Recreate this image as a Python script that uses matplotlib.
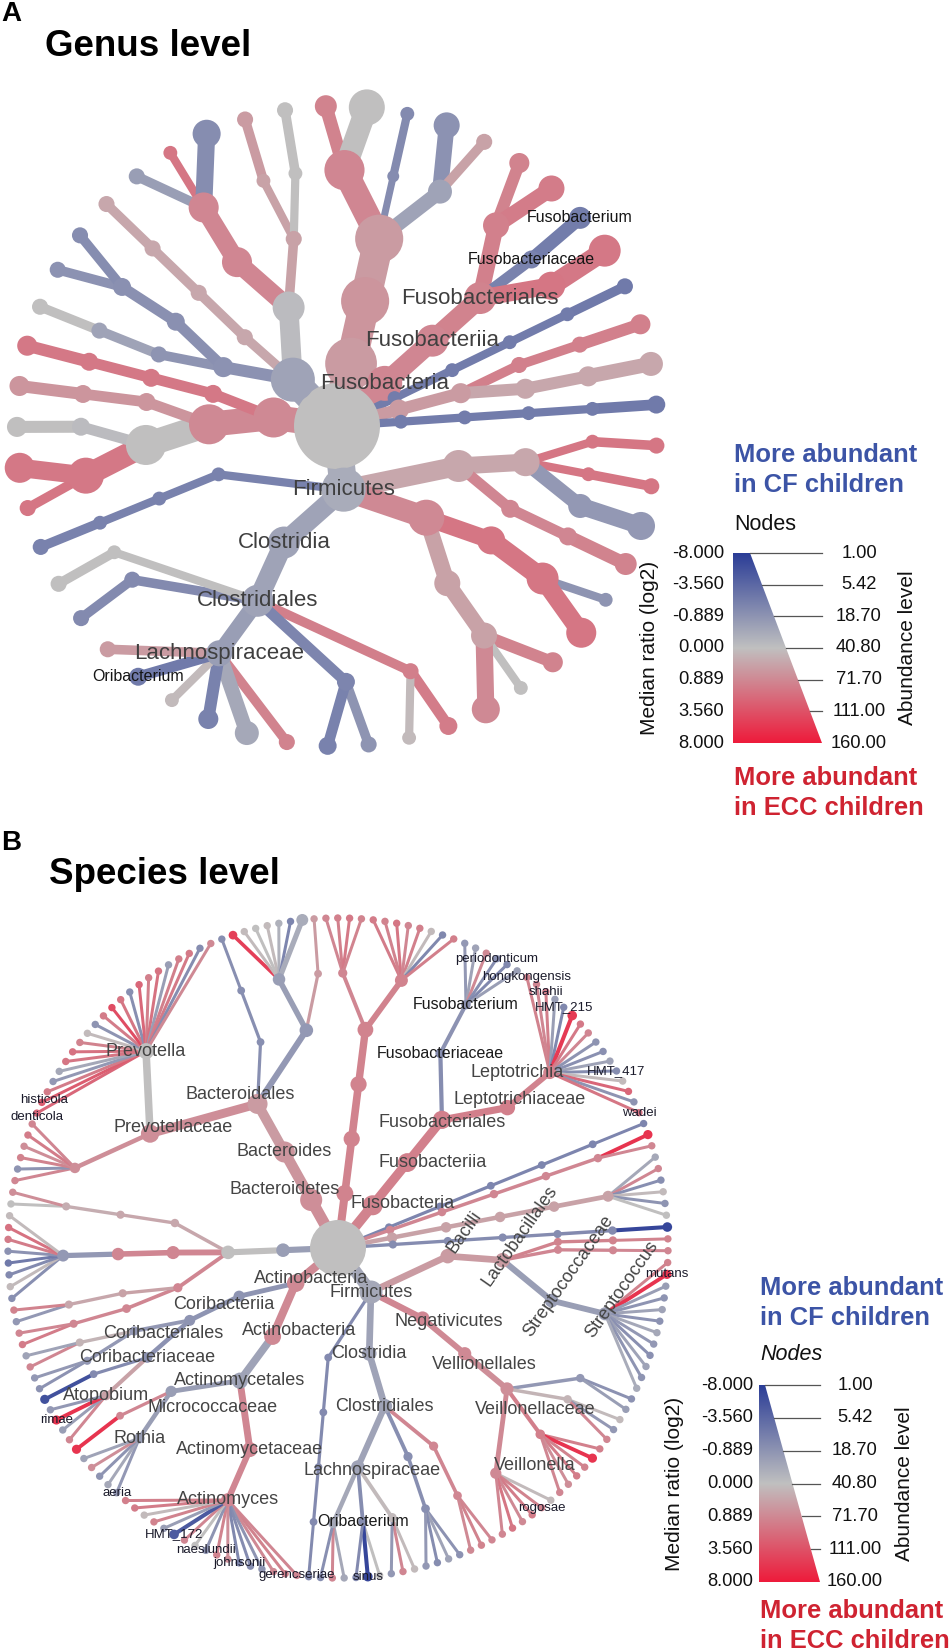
import numpy as np
import matplotlib
matplotlib.use("Agg")
import matplotlib.pyplot as plt
from matplotlib.collections import LineCollection
from matplotlib.patches import Circle, Polygon
from matplotlib.colors import LinearSegmentedColormap

plt.rcParams['font.family'] = ['Liberation Sans', 'DejaVu Sans']

W, H = 949, 1652

# legend scales
ratio_ticks = [-8.0, -3.56, -0.889, 0.0, 0.889, 3.56, 8.0]
abund_ticks = [1.00, 5.42, 18.70, 40.80, 71.70, 111.00, 160.00]

# ---------------- genus level tree (clockwise order) ----------------
g_name = [
    "Bacteria",
    "Bacteroidetes", "Bacteroidia", "Bacteroidales",
    "Prevotellaceae", "Prevotella", "Alloprevotella",
    "Porphyromonadaceae", "Porphyromonas",
    "Flavobacteriaceae", "Capnocytophaga", "Bergeyella",
    "Fusobacteria", "Fusobacteriia", "Fusobacteriales",
    "Leptotrichiaceae", "Leptotrichia", "Sneathia",
    "Fusobacteriaceae", "Fusobacterium",
    "Fusobacteriales_[F-1]", "Fusobacteriales_[G-1]",
    "Spirochaetes", "Spirochaetia", "Spirochaetales", "Spirochaetaceae", "Treponema",
    "Saccharibacteria", "TM7_[C-1]", "TM7_[O-1]", "TM7_[F-1]", "TM7_[G-1]", "TM7_[O-2]", "TM7_[F-2]", "TM7_[G-2]",
    "Synergistetes", "Synergistia", "Synergistales", "Synergistaceae", "Fretibacterium",
    "Firmicutes", "Bacilli", "Lactobacillales", "Carnobacteriaceae", "Granulicatella", "Lactobacillaceae", "Lactobacillus", "Streptococcaceae", "Streptococcus",
    "Bacillales", "Gemellaceae", "Gemella",
    "Negativicutes", "Selenomonadales", "Veillonellaceae", "Megasphaera", "Veillonella",
    "Acidaminococcales", "Acidaminococcaceae", "Selenomonas", "Phascolarctobacterium", "Centipeda",
    "Clostridia", "Clostridiales", "Peptostreptococcaceae", "Peptostreptococcus", "Filifactor",
    "Ruminococcaceae", "Ruminococcus", "Oscillibacter",
    "Lachnospiraceae", "Lachnoanaerobaculum", "Stomatobaculum", "Catonella", "Shuttleworthia", "Oribacterium", "Johnsonella",
    "Peptococcaceae", "Peptococcus", "Clostridiales_[F-1]", "Mogibacterium",
    "Erysipelotrichia", "Erysipelotrichales", "Erysipelotrichaceae", "Solobacterium",
    "Actinobacteria", "Actinobacteria|c", "Actinomycetales", "Actinomycetaceae", "Schaalia", "Actinomyces", "Micrococcaceae", "Rothia",
    "Bifidobacteriales", "Bifidobacteriaceae", "Scardovia",
    "Coriobacteriia", "Coriobacteriales", "Coriobacteriaceae", "Atopobium",
    "Proteobacteria", "Deltaproteobacteria", "Desulfobacterales", "Desulfobulbaceae", "Desulfobulbus", "Desulfovibrionales", "Desulfovibrionaceae", "Desulfovibrio", "Bilophila",
    "Alphaproteobacteria", "Rhizobiales", "Bradyrhizobiaceae", "Bradyrhizobium",
    "Betaproteobacteria", "Neisseriales", "Neisseriaceae", "Kingella", "Eikenella", "Neisseria",
    "Burkholderiales", "Burkholderiaceae", "Lautropia", "Comamonadaceae", "Delftia",
]
g_parent = [
    "",
    "Bacteria", "Bacteroidetes", "Bacteroidia",
    "Bacteroidales", "Prevotellaceae", "Prevotellaceae",
    "Bacteroidales", "Porphyromonadaceae",
    "Bacteroidales", "Flavobacteriaceae", "Flavobacteriaceae",
    "Bacteria", "Fusobacteria", "Fusobacteriia",
    "Fusobacteriales", "Leptotrichiaceae", "Leptotrichiaceae",
    "Fusobacteriales", "Fusobacteriaceae",
    "Fusobacteriales", "Fusobacteriales_[F-1]",
    "Bacteria", "Spirochaetes", "Spirochaetia", "Spirochaetales", "Spirochaetaceae",
    "Bacteria", "Saccharibacteria", "TM7_[C-1]", "TM7_[O-1]", "TM7_[F-1]", "TM7_[C-1]", "TM7_[O-2]", "TM7_[F-2]",
    "Bacteria", "Synergistetes", "Synergistia", "Synergistales", "Synergistaceae",
    "Bacteria", "Firmicutes", "Bacilli", "Lactobacillales", "Carnobacteriaceae", "Lactobacillales", "Lactobacillaceae", "Lactobacillales", "Streptococcaceae",
    "Bacilli", "Bacillales", "Gemellaceae",
    "Firmicutes", "Negativicutes", "Selenomonadales", "Veillonellaceae", "Veillonellaceae",
    "Negativicutes", "Acidaminococcales", "Acidaminococcaceae", "Acidaminococcaceae", "Acidaminococcaceae",
    "Firmicutes", "Clostridia", "Clostridiales", "Peptostreptococcaceae", "Peptostreptococcaceae",
    "Clostridiales", "Ruminococcaceae", "Ruminococcaceae",
    "Clostridiales", "Lachnospiraceae", "Lachnospiraceae", "Lachnospiraceae", "Lachnospiraceae", "Lachnospiraceae", "Lachnospiraceae",
    "Clostridiales", "Peptococcaceae", "Clostridiales", "Clostridiales_[F-1]",
    "Firmicutes", "Erysipelotrichia", "Erysipelotrichales", "Erysipelotrichaceae",
    "Bacteria", "Actinobacteria", "Actinobacteria|c", "Actinomycetales", "Actinomycetaceae", "Actinomycetaceae", "Actinomycetales", "Micrococcaceae",
    "Actinobacteria|c", "Bifidobacteriales", "Bifidobacteriaceae",
    "Actinobacteria", "Coriobacteriia", "Coriobacteriales", "Coriobacteriaceae",
    "Bacteria", "Proteobacteria", "Deltaproteobacteria", "Desulfobacterales", "Desulfobulbaceae", "Deltaproteobacteria", "Desulfovibrionales", "Desulfovibrionaceae", "Desulfovibrionaceae",
    "Proteobacteria", "Alphaproteobacteria", "Rhizobiales", "Bradyrhizobiaceae",
    "Proteobacteria", "Betaproteobacteria", "Neisseriales", "Neisseriaceae", "Neisseriaceae", "Neisseriaceae",
    "Betaproteobacteria", "Burkholderiales", "Burkholderiaceae", "Burkholderiales", "Comamonadaceae",
]
g_ratio = [
    0.0,
    0.6, 0.7, 0.6,
    1.0, 1.2, 0.0,
    -1.4, -1.5,
    -0.6, -1.0, 0.5,
    1.0, 1.0, 1.2,
    1.3, 1.2, 1.5,
    -2.0, -2.3,
    1.8, 1.7,
    -2.4, -2.4, -2.4, -2.4, -2.5,
    0.6, 0.6, 1.3, 1.3, 1.3, 0.4, 0.4, 0.4,
    -2.4, -2.4, -2.4, -2.4, -2.5,
    -0.4, 0.4, 0.4, 1.8, 1.8, 1.8, 1.8, -0.8, -0.8,
    1.0, 1.0, 1.2,
    0.9, 1.8, 1.8, -0.9, 1.8,
    0.5, 0.5, 1.2, 0.0, 0.9,
    -0.6, -0.6, 1.4, 1.5, 0.1,
    -1.8, -0.9, -2.0,
    -0.7, 1.2, -0.5, -2.0, 0.1, -2.5, 0.6,
    -1.5, -1.5, 0.0, 0.0,
    -2.0, -2.0, -2.0, -2.0,
    0.9, 0.9, 0.0, 1.7, 1.8, 1.7, -0.1, 0.0,
    0.7, 0.7, 0.7,
    1.7, 1.7, 1.7, 1.7,
    -0.6, -1.0, -0.9, -0.6, 0.0, -1.1, -1.1, -1.0, -1.3,
    0.4, 0.4, 0.4, 0.4,
    -0.1, 1.0, 1.0, -0.7, 1.8, -1.3,
    0.5, 0.5, 0.6, 0.0, 0.0,
]
g_abund = [
    160,
    51, 43, 43,
    28, 6.1, 21.5,
    1.4, 1.9,
    7.7, 9.5, 2.7,
    20, 16, 16,
    9.5, 4.8, 9.5,
    3.6, 6.1,
    11.5, 16,
    1.9, 1.9, 1.9, 1.9, 2.7,
    4.8, 4.8, 2.7, 2.7, 4.8, 4.8, 4.8, 7.7,
    1.9, 1.9, 1.9, 1.9, 3.6,
    35, 16, 11.5, 1.9, 2.7, 1.9, 2.7, 7.7, 11.5,
    3.6, 3.6, 6.1,
    21.5, 11.5, 16, 1.9, 13.7,
    9.5, 9.5, 4.8, 1.9, 11.5,
    16, 16, 2.7, 3.6, 1.9,
    3.6, 2.7, 3.6,
    9.5, 2.7, 7.7, 4.8, 1.9, 3.6, 2.7,
    2.7, 2.7, 1.9, 2.7,
    1.9, 1.9, 1.9, 2.7,
    27.8, 27.8, 27.8, 21.5, 2.7, 13.7, 3.6, 4.8,
    3.6, 3.6, 4.8,
    3.6, 3.6, 3.6, 4.8,
    35, 4.8, 2.7, 2.7, 2.7, 3.6, 3.6, 2.7, 2.7,
    2.7, 2.7, 2.7, 2.7,
    16, 13.7, 13.7, 2.7, 1.9, 11.5,
    2.7, 1.9, 2.7, 1.9, 2.7,
]
g_labels_big = ["Fusobacteria", "Fusobacteriia", "Fusobacteriales", "Firmicutes",
                "Clostridia", "Clostridiales", "Lachnospiraceae"]
g_labels_small = ["Fusobacteriaceae", "Fusobacterium", "Oribacterium"]

# ---------------- species level tree (clockwise order) ----------------
s_name = [
    "Bacteria",
    "Proteobacteria", "Betaproteobacteria", "Neisseriales", "Neisseriaceae", "Kingella", "Neisseria",
    "Fusobacteria", "Fusobacteriia", "Fusobacteriales", "Fusobacteriaceae", "Fusobacterium", "Leptotrichiaceae", "Leptotrichia",
    "Synergistetes", "Synergistia", "Synergistales", "Synergistaceae", "Fretibacterium",
    "Saccharibacteria", "TM7_[C-1]", "TM7_[O-1]", "TM7_[F-1]", "TM7_[G-1]",
    "Absconditabacteria", "SR1_[C-1]", "SR1_[O-1]", "SR1_[F-1]", "SR1_[G-1]",
    "Chloroflexi", "Anaerolineae", "Anaerolineales", "Anaerolineaceae", "Anaerolineae_[G-1]",
    "Firmicutes", "Bacilli", "Lactobacillales", "Lactobacillaceae", "Lactobacillus", "Carnobacteriaceae", "Granulicatella", "Streptococcaceae", "Streptococcus",
    "Negativicutes", "Vellionellales", "Veillonellaceae", "Megasphaera", "Dialister", "Selenomonas", "Veillonella",
    "Clostridia", "Clostridiales", "Peptostreptococcaceae", "Peptostreptococcus", "Peptococcaceae", "Peptococcus", "Lachnospiraceae", "Lachnoanaerobaculum", "Oribacterium", "Stomatobaculum",
    "Erysipelotrichia", "Erysipelotrichales", "Erysipelotrichaceae", "Solobacterium",
    "Actinobacteria", "Actinobacteria|c", "Actinomycetales", "Actinomycetaceae", "Actinomyces", "Micrococcaceae", "Rothia", "Kocuria",
    "Coribacteriia", "Coribacteriales", "Coribacteriaceae", "Atopobium", "Olsenella", "Eggerthellaceae", "Slackia", "Cryptobacterium",
    "Spirochaetes", "Spirochaetia", "Leptospirales", "Leptospiraceae", "Leptospira", "Leptonemataceae", "Leptonema", "Spirochaetales", "Spirochaetaceae", "Treponema", "Spirochaetia_[O-3]", "Spirochaetia_[F-3]", "Spirochaetia_[G-3]",
    "Bacteroidetes", "Bacteroides", "Bacteroidales", "Prevotellaceae", "Alloprevotella", "Prevotella", "Porphyromonadaceae", "Porphyromonas", "Flavobacteriaceae", "Capnocytophaga", "Bergeyella",
]
s_parent = [
    "",
    "Bacteria", "Proteobacteria", "Betaproteobacteria", "Neisseriales", "Neisseriaceae", "Neisseriaceae",
    "Bacteria", "Fusobacteria", "Fusobacteriia", "Fusobacteriales", "Fusobacteriaceae", "Fusobacteriales", "Leptotrichiaceae",
    "Bacteria", "Synergistetes", "Synergistia", "Synergistales", "Synergistaceae",
    "Bacteria", "Saccharibacteria", "TM7_[C-1]", "TM7_[O-1]", "TM7_[F-1]",
    "Bacteria", "Absconditabacteria", "SR1_[C-1]", "SR1_[O-1]", "SR1_[F-1]",
    "Bacteria", "Chloroflexi", "Anaerolineae", "Anaerolineales", "Anaerolineaceae",
    "Bacteria", "Firmicutes", "Bacilli", "Lactobacillales", "Lactobacillaceae", "Lactobacillales", "Carnobacteriaceae", "Lactobacillales", "Streptococcaceae",
    "Firmicutes", "Negativicutes", "Vellionellales", "Veillonellaceae", "Veillonellaceae", "Veillonellaceae", "Veillonellaceae",
    "Firmicutes", "Clostridia", "Clostridiales", "Peptostreptococcaceae", "Clostridiales", "Peptococcaceae", "Clostridiales", "Lachnospiraceae", "Lachnospiraceae", "Lachnospiraceae",
    "Firmicutes", "Erysipelotrichia", "Erysipelotrichales", "Erysipelotrichaceae",
    "Bacteria", "Actinobacteria", "Actinobacteria|c", "Actinomycetales", "Actinomycetaceae", "Actinomycetales", "Micrococcaceae", "Micrococcaceae",
    "Actinobacteria", "Coribacteriia", "Coribacteriales", "Coribacteriaceae", "Coribacteriaceae", "Coribacteriales", "Eggerthellaceae", "Eggerthellaceae",
    "Bacteria", "Spirochaetes", "Spirochaetia", "Leptospirales", "Leptospiraceae", "Leptospirales", "Leptonemataceae", "Spirochaetia", "Spirochaetales", "Spirochaetaceae", "Spirochaetia", "Spirochaetia_[O-3]", "Spirochaetia_[F-3]",
    "Bacteria", "Bacteroidetes", "Bacteroides", "Bacteroidales", "Prevotellaceae", "Prevotellaceae", "Bacteroidales", "Porphyromonadaceae", "Bacteroidales", "Flavobacteriaceae", "Flavobacteriaceae",
]
s_ratio = [
    0.0,
    1.2, 1.2, 1.2, 1.2, 1.0, 1.2,
    1.2, 1.3, 1.3, -1.3, -1.0, 1.4, 1.2,
    -1.8, -1.8, -1.8, -1.8, -1.8,
    1.0, 1.0, 1.0, 1.0, 1.0,
    0.5, 0.5, 0.5, 0.5, 0.5,
    -1.4, -1.4, -1.4, -1.4, -1.5,
    -0.5, 0.6, 0.6, 1.2, 1.2, 1.0, 1.0, -0.7, -0.7,
    1.0, 0.9, 0.8, -0.8, 0.2, 1.4, 0.9,
    -0.6, -0.6, 1.0, 1.0, -1.2, -1.2, -0.6, 0.1, -1.3, -0.5,
    -1.5, -1.5, -1.5, -1.5,
    0.9, 0.9, -0.6, 1.0, 1.0, -0.7, -0.7, 1.0,
    -0.9, -0.9, -1.0, 0.5, -1.5, -0.8, -0.8, 0.2,
    -0.7, 0.0, 1.0, 1.0, 1.0, 0.5, 0.4, 1.0, 1.0, -0.8, 0.4, 0.4, 0.3,
    0.8, 0.7, 0.6, 0.8, 0.8, 0.0, -1.2, -1.2, -0.8, -0.7, 0.6,
]
s_abund = [
    160,
    9, 8, 8, 7.5, 1.8, 4.4,
    14, 12, 11, 2.2, 2.0, 7, 4.5,
    1.3, 1.3, 1.3, 1.3, 1.3,
    1.5, 1.5, 1.5, 1.5, 1.5,
    2.5, 2.5, 2.5, 2.5, 2.8,
    1.4, 1.4, 1.4, 1.4, 1.5,
    20, 6, 6, 1.4, 1.4, 1.4, 1.4, 5, 4.5,
    5.5, 4.5, 4.5, 1.5, 1.5, 2.0, 3.0,
    6, 6, 1.8, 1.6, 1.8, 1.6, 5, 1.8, 1.8, 2.5,
    1.3, 1.3, 1.3, 1.3,
    10, 9, 8, 6.5, 5, 3, 2.5, 1.3,
    3, 2.8, 2.5, 2.0, 1.3, 1.8, 1.4, 1.4,
    5, 5, 1.8, 1.6, 1.4, 1.4, 1.4, 4.5, 4, 3.5, 1.5, 1.4, 1.4,
    18, 16, 14, 11, 2.5, 7.8, 1.3, 1.3, 5, 4, 1.3,
]

# species (leaves) per genus: median log2 ratio of each species
sp_leaf_ratio = {
    "Kingella": [1.0, 1.3, 1.6, 1.1],
    "Neisseria": [1.5, 1.2, 1.8, 1.0, 1.3, 0.1, -1.6, 1.4],
    "Fusobacterium": [-0.8, -0.6, 0.9, -1.2, -1.6, -0.7],
    "Leptotrichia": [1.2, 1.0, 1.4, -0.7, -1.6, 5.5, 1.6, 1.0, -0.9, -1.1, -0.6, -1.3, 0.1, 2.5, -0.9, 1.8],
    "Fretibacterium": [-1.8],
    "TM7_[G-1]": [6.0, 1.0],
    "SR1_[G-1]": [-0.5, 1.0, -1.2, 0.1, -0.9, 0.0],
    "Anaerolineae_[G-1]": [-7.0],
    "Lactobacillus": [1.2],
    "Granulicatella": [1.0],
    "Streptococcus": [1.2, 6.0, -0.7, -0.9, -0.6, -1.0, -0.5, -0.8, -1.1, -0.6, -0.9, -0.4],
    "Megasphaera": [-1.0, -0.7],
    "Dialister": [0.1, -0.8, 1.0],
    "Selenomonas": [1.3, 6.0, 1.2, 1.5, 0.8, 1.0],
    "Veillonella": [0.1, 1.2, 1.5, 0.9, 1.8, 1.0],
    "Peptostreptococcus": [1.0, 1.2, 0.9],
    "Peptococcus": [-1.0, -0.6, -1.3, -0.8],
    "Lachnoanaerobaculum": [0.1, 1.0, -0.8],
    "Oribacterium": [0.0, -7.0, -1.5],
    "Stomatobaculum": [-0.5, 1.0, -1.2],
    "Solobacterium": [-1.5],
    "Actinomyces": [1.0, 1.2, 0.9, -0.9, -1.4, -1.6, 0.8, 1.1, -0.9, 0.0, 1.0, -5.0, -0.7, 1.2, 0.1, 1.5, 1.3],
    "Rothia": [-0.8, -0.5, -0.9, 0.8, -0.6],
    "Kocuria": [6.0],
    "Atopobium": [1.0, -0.7, 6.0, -0.8],
    "Olsenella": [-6.0],
    "Slackia": [-1.0, -0.8],
    "Cryptobacterium": [1.0, -0.6],
    "Leptospira": [1.5, 1.0],
    "Leptonema": [-0.8, 1.2],
    "Treponema": [-1.2, 0.1, -1.5, -2.5, -1.0, 1.5, 2.0, 0.1],
    "Spirochaetia_[G-3]": [0.0, 0.8],
    "Alloprevotella": [1.0, -0.9, 1.2, 0.8, 1.5, 1.0],
    "Prevotella": [2.5, 3.0, 1.5, -0.8, -0.5, 1.8, 2.0, 1.2, 0.1, -0.9, 1.5, 4.0, 1.8, -1.2, 2.5, 1.3, 2.0, -0.7, 1.4, 1.6, -1.3, 0.9],
    "Porphyromonas": [-1.2],
    "Capnocytophaga": [5.0, 0.1, 0.0, 0.1, -0.3, -1.8, -0.4],
    "Bergeyella": [0.6],
}
sp_leaf_abund_default = 1.2
sp_leaf_abund = {
    "Leptotrichia": {5: 2.0}, "Streptococcus": {1: 1.8}, "Selenomonas": {1: 1.8},
    "Oribacterium": {1: 2.0}, "Actinomyces": {11: 2.0}, "Atopobium": {2: 1.8},
    "Kocuria": {0: 1.8}, "Olsenella": {0: 1.8}, "Anaerolineae_[G-1]": {0: 2.0},
    "TM7_[G-1]": {0: 1.8}, "Capnocytophaga": {0: 1.6, 6: 3.5},
}
sp_leaf_label = {
    "Fusobacterium": {3: "periodonticum"},
    "Leptotrichia": {0: "hongkongensis", 2: "shahii", 4: "HMT_215", 11: "HMT_417", 15: "wadei"},
    "Streptococcus": {1: "mutans"},
    "Veillonella": {1: "rogosae"},
    "Oribacterium": {1: "sinus"},
    "Actinomyces": {0: "gerencseriae", 5: "johnsonii", 8: "naeslundii", 11: "HMT_172"},
    "Rothia": {0: "aeria"},
    "Atopobium": {2: "rimae"},
    "Prevotella": {0: "denticola", 1: "histicola"},
}
s_labels_big = ["Prevotella", "Prevotellaceae", "Bacteroidales", "Bacteroides", "Bacteroidetes",
                "Fusobacteria", "Fusobacteriia", "Fusobacteriales", "Leptotrichiaceae", "Leptotrichia",
                "Firmicutes", "Negativicutes", "Vellionellales", "Veillonellaceae", "Veillonella",
                "Clostridia", "Clostridiales", "Lachnospiraceae",
                "Actinobacteria", "Actinobacteria|c", "Coribacteriia", "Coribacteriales", "Coribacteriaceae",
                "Atopobium", "Actinomycetales", "Micrococcaceae", "Actinomycetaceae", "Actinomyces", "Rothia"]
s_labels_rot = ["Bacilli", "Lactobacillales", "Streptococcaceae", "Streptococcus"]
s_labels_mid = ["Fusobacteriaceae", "Fusobacterium", "Oribacterium"]

# nudges (pixels) so that crowded labels sit as in the original figure
s_label_nudge = {
    "Bacteroidetes": (-27, -10), "Bacteroidales": (-17, -9), "Prevotellaceae": (23, -6),
    "Fusobacteria": (30, -2), "Fusobacteriia": (25, 0), "Leptotrichia": (-33, 0),
    "Leptotrichiaceae": (12, -8), "Fusobacteriales": (0, 3),
    "Actinobacteria": (15, -5), "Coribacteriia": (-15, 8), "Actinobacteria|c": (26, -6),
    "Coribacteriales": (-26, 13), "Micrococcaceae": (41, 16),
    "Negativicutes": (26, 3), "Vellionellales": (20, 11), "Veillonellaceae": (28, 21),
    "Veillonella": (39, -8), "Lachnospiraceae": (14, 3),
    "Prevotella denticola": (0, 4), "Prevotella histicola": (2, -2),
}

assert len(g_name) == len(g_parent) == len(g_ratio) == len(g_abund)
assert len(s_name) == len(s_parent) == len(s_ratio) == len(s_abund)

# add species leaves to the species tree
sp_names, sp_parents = list(s_name), list(s_parent)
sp_ratio, sp_abund = list(s_ratio), list(s_abund)
sp_display = {}
for genus, vals in sp_leaf_ratio.items():
    for i, v in enumerate(vals):
        epithet = sp_leaf_label.get(genus, {}).get(i)
        leaf = f"{genus} {epithet}" if epithet else f"{genus} sp{i + 1}"
        if epithet:
            sp_display[leaf] = epithet
        sp_names.append(leaf)
        sp_parents.append(genus)
        sp_ratio.append(v)
        sp_abund.append(sp_leaf_abund.get(genus, {}).get(i, sp_leaf_abund_default))

# ---------------- helpers ----------------
cmap = LinearSegmentedColormap.from_list('cf_ecc', ['#2b3d97', '#c0c0c0', '#ee1b3b'])
tick_pos = np.linspace(0, 1, len(ratio_ticks))


def ratio_color(r):
    return cmap(np.interp(r, ratio_ticks, tick_pos))


def node_radius(a, rmin, rmax):
    return rmin + (rmax - rmin) * np.sqrt((a - 1.0) / (abund_ticks[-1] - 1.0))


def radial_layout(names, parents, cx, cy, step, theta0):
    children = {n: [] for n in names}
    for n, p in zip(names, parents):
        if p:
            children[p].append(n)
    root = names[0]
    leaves, depth = [], {root: 0}

    def walk(n):
        for c in children[n]:
            depth[c] = depth[n] + 1
            walk(c)
        if not children[n]:
            leaves.append(n)
    walk(root)

    d_ang = 360.0 / len(leaves)
    ang = {leaf: theta0 - i * d_ang for i, leaf in enumerate(leaves)}

    def set_angle(n):
        if children[n]:
            ang[n] = np.mean([set_angle(c) for c in children[n]])
        return ang[n]
    set_angle(root)

    pos = {}
    for n in names:
        t = np.radians(ang[n])
        r = depth[n] * step
        pos[n] = (cx + r * np.cos(t), cy - r * np.sin(t))
    return pos, depth


def draw_tree(ax, names, parents, ratios, abunds, cx, cy, step, theta0, rmin, rmax, edge_w):
    pos, depth = radial_layout(names, parents, cx, cy, step, theta0)
    rad = {n: node_radius(a, rmin, rmax) for n, a in zip(names, abunds)}
    col = {n: ratio_color(r) for n, r in zip(names, ratios)}
    segs, lws, cols = [], [], []
    for n, p in zip(names, parents):
        if p:
            segs.append([pos[p], pos[n]])
            lws.append(edge_w(rad[n]) * 0.72)
            cols.append(col[n])
    ax.add_collection(LineCollection(segs, linewidths=lws, colors=cols,
                                     capstyle='butt', zorder=1))
    for n in sorted(names, key=lambda k: depth[k]):
        ax.add_patch(Circle(pos[n], rad[n], facecolor=col[n], edgecolor='none', zorder=2))
    return pos


def put_label(ax, pos, name, text, size, color, rot=0, nudge=(0, 0)):
    x, y = pos[name]
    ax.text(x + nudge[0], y + nudge[1], text, ha='center', va='center', fontsize=size,
            color=color, rotation=rot, rotation_mode='anchor', zorder=5)


def draw_legend(ax, left, top, bottom, top_w, bot_w, line_x, lab_l_x, lab_r_x,
                rot_l_x, rot_r_x, cf_y, nodes_y, ecc_y, italic):
    blue, red = '#3c54a6', '#cf2331'
    for i, line in enumerate(["More abundant", "in CF children"]):
        ax.text(left + 1, cf_y + i * 30, line, ha='left', va='center', fontsize=18.4,
                fontweight='bold', color=blue)
    for i, line in enumerate(["More abundant", "in ECC children"]):
        ax.text(left + 1, ecc_y + i * 30, line, ha='left', va='center', fontsize=18.4,
                fontweight='bold', color=red)
    ax.text(left + 1, nodes_y, "Nodes", ha='left', va='center', fontsize=15.5,
            color='#111111', style='italic' if italic else 'normal')

    poly = Polygon([(left, top), (left + top_w, top), (left + bot_w, bottom), (left, bottom)],
                   closed=True, facecolor='none', edgecolor='none')
    ax.add_patch(poly)
    grad = np.linspace(0, 1, 256).reshape(-1, 1)
    im = ax.imshow(grad, cmap=cmap, extent=(left, left + bot_w, bottom, top),
                   origin='upper', aspect='auto', zorder=3)
    im.set_clip_path(poly)

    n = len(ratio_ticks)
    for i, (rv, av) in enumerate(zip(ratio_ticks, abund_ticks)):
        y = top + i * (bottom - top) / (n - 1)
        xe = left + top_w + (bot_w - top_w) * (y - top) / (bottom - top)
        ax.plot([xe, line_x], [y, y], color='#555555', lw=0.9, zorder=4)
        ax.text(lab_l_x, y, f"{rv:.3f}", ha='right', va='center', fontsize=13.2, color='#111111')
        ax.text(lab_r_x, y, f"{av:.2f}", ha='center', va='center', fontsize=13.2, color='#111111')
    ymid = (top + bottom) / 2
    ax.text(rot_l_x, ymid, "Median ratio (log2)", rotation=90, ha='center', va='center',
            fontsize=15, color='#111111')
    ax.text(rot_r_x, ymid, "Abundance level", rotation=90, ha='center', va='center',
            fontsize=15, color='#111111')


# ---------------- figure ----------------
fig = plt.figure(figsize=(W / 100, H / 100), dpi=100)
ax = fig.add_axes([0, 0, 1, 1])
ax.set_xlim(0, W)
ax.set_ylim(H, 0)
ax.axis('off')

# panel A
ax.text(1, 14, "A", ha='left', va='center', fontsize=20, fontweight='bold')
ax.text(45, 46, "Genus level", ha='left', va='center', fontsize=26.5, fontweight='bold')
gpos = draw_tree(ax, g_name, g_parent, g_ratio, g_abund, cx=337, cy=426, step=64,
                 theta0=92.0, rmin=4.0, rmax=43.0,
                 edge_w=lambda r: 1.15 * r + 0.005 * r ** 2)
for n in g_labels_big:
    put_label(ax, gpos, n, n.split('|')[0], 16, '#3f3f3f')
for n in g_labels_small:
    put_label(ax, gpos, n, n, 11.5, '#151515')
draw_legend(ax, left=733, top=553, bottom=743, top_w=17, bot_w=89, line_x=822,
            lab_l_x=724, lab_r_x=859, rot_l_x=650, rot_r_x=908,
            cf_y=455, nodes_y=525, ecc_y=778, italic=False)

# panel B
ax.text(1, 843, "B", ha='left', va='center', fontsize=20, fontweight='bold')
ax.text(49, 874, "Species level", ha='left', va='center', fontsize=26.5, fontweight='bold')
spos = draw_tree(ax, sp_names, sp_parents, sp_ratio, sp_abund, cx=338, cy=1248, step=55,
                 theta0=92.1, rmin=2.8, rmax=28.0,
                 edge_w=lambda r: 0.7 * r + 0.03 * r ** 2)
for n in s_labels_big:
    put_label(ax, spos, n, n.split('|')[0], 13, '#444444', nudge=s_label_nudge.get(n, (0, 0)))
rot_dx, rot_dy = 30 * np.cos(np.radians(55)), -30 * np.sin(np.radians(55))
for n in s_labels_rot:
    put_label(ax, spos, n, n, 13, '#444444', rot=55, nudge=(rot_dx, rot_dy))
for n in s_labels_mid:
    put_label(ax, spos, n, n, 11.5, '#1a1a1a')
for leaf, ep in sp_display.items():
    put_label(ax, spos, leaf, ep, 9.5, '#1a1a2a', nudge=s_label_nudge.get(leaf, (0, 0)))
draw_legend(ax, left=759, top=1385, bottom=1582, top_w=6, bot_w=61, line_x=820,
            lab_l_x=753, lab_r_x=855, rot_l_x=675, rot_r_x=905,
            cf_y=1288, nodes_y=1355, ecc_y=1611, italic=True)

ax.set_xlim(0, W)
ax.set_ylim(H, 0)
fig.savefig("out.png", dpi=100, facecolor='white')
